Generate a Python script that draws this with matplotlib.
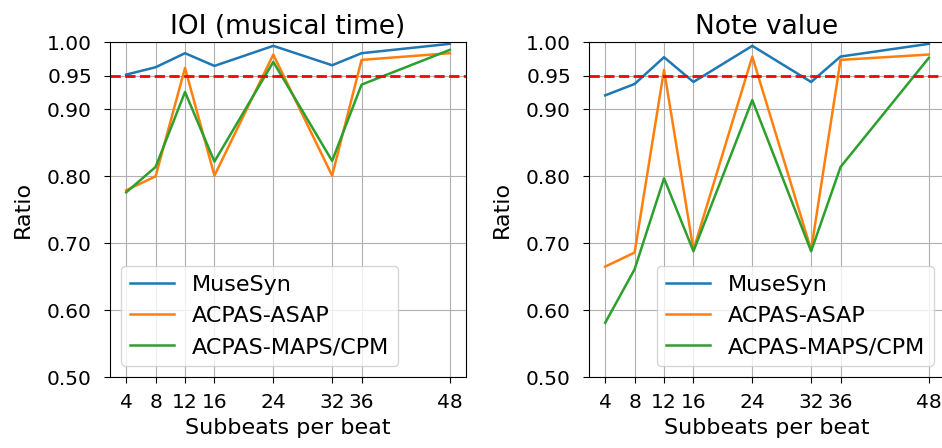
import matplotlib
matplotlib.use("Agg")
import matplotlib.pyplot as plt

subbeats = [4, 8, 12, 16, 24, 32, 36, 48]
yticks = [0.50, 0.60, 0.70, 0.80, 0.90, 0.95, 1.00]
series_names = ["MuseSyn", "ACPAS-ASAP", "ACPAS-MAPS/CPM"]

ioi_musesyn = [0.952, 0.963, 0.984, 0.965, 0.995, 0.966, 0.984, 0.998]
ioi_asap = [0.779, 0.800, 0.962, 0.801, 0.982, 0.801, 0.974, 0.984]
ioi_maps = [0.776, 0.814, 0.926, 0.822, 0.971, 0.823, 0.937, 0.989]

nv_musesyn = [0.921, 0.938, 0.978, 0.941, 0.995, 0.941, 0.979, 0.998]
nv_asap = [0.665, 0.686, 0.959, 0.690, 0.979, 0.690, 0.974, 0.982]
nv_maps = [0.581, 0.661, 0.797, 0.688, 0.914, 0.688, 0.814, 0.977]

threshold = 0.95

plt.rcParams['font.size'] = 16
plt.rcParams['axes.titlesize'] = 19
plt.rcParams['axes.labelsize'] = 16
plt.rcParams['xtick.labelsize'] = 14.5
plt.rcParams['ytick.labelsize'] = 14.5
plt.rcParams['xtick.major.size'] = 4.5
plt.rcParams['ytick.major.size'] = 4.5
plt.rcParams['xtick.major.pad'] = 7
plt.rcParams['ytick.major.pad'] = 8.5

fig = plt.figure(figsize=(9.42, 4.48), dpi=100)
W, H = 942, 448
axL = fig.add_axes([110 / W, (H - 377) / H, 356 / W, 334.5 / H])
axR = fig.add_axes([589 / W, (H - 377) / H, 356 / W, 334.5 / H])

panels = [
    (axL, "IOI (musical time)", [ioi_musesyn, ioi_asap, ioi_maps], "lower left"),
    (axR, "Note value", [nv_musesyn, nv_asap, nv_maps], "lower right"),
]
colors = ["#1f77b4", "#ff7f0e", "#2ca02c"]

for ax, title, data, loc in panels:
    for name, vals, c in zip(series_names, data, colors):
        ax.plot(subbeats, vals, color=c, label=name, linewidth=1.8)
    ax.axhline(threshold, color="red", linestyle="--", linewidth=2)
    ax.set_ylim(0.5, 1.0)
    ax.set_yticks(yticks)
    ax.set_yticklabels([f"{t:.2f}" for t in yticks])
    ax.set_xticks(subbeats)
    ax.set_xticklabels([str(s) for s in subbeats])
    ax.set_xlim(1.8, 50.2)
    ax.grid(True)
    ax.set_title(title)
    ax.set_xlabel("Subbeats per beat", labelpad=4)
    ax.set_ylabel("Ratio", labelpad=10)
    ax.legend(loc=loc)

fig.savefig("out.png", dpi=100)
